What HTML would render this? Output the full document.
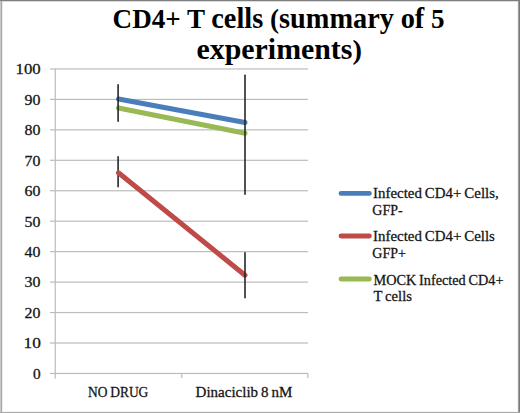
<!DOCTYPE html>
<html><head><meta charset="utf-8">
<style>
html,body{margin:0;padding:0;background:#fff;}
body{width:520px;height:413px;overflow:hidden;position:relative;}
svg{position:absolute;left:0;top:0;display:block;}
text{font-family:"Liberation Serif",serif;}
.sm{stroke:#1a1a1a;stroke-width:0.28px;word-spacing:-0.8px;}

</style></head>
<body>
<svg width="520" height="413" viewBox="0 0 520 413">
<g id="bg">
<rect x="0" y="0" width="520" height="413" fill="#fff"/>
<rect x="2" y="0" width="1" height="413" fill="#ececec"/>
<rect x="517" y="0" width="1" height="413" fill="#f2f2f2"/>
<rect x="0" y="411" width="520" height="1" fill="#f6f6f6"/>
<rect x="0" y="1" width="520" height="1" fill="#dcdcdc"/>
<rect x="0" y="0" width="1" height="413" fill="#c8c8c8"/>
<rect x="1" y="0" width="1" height="413" fill="#a8a8a8"/>
<rect x="518" y="0" width="1" height="413" fill="#a0a0a0"/>
<rect x="519" y="0" width="1" height="413" fill="#7a7a7a"/>
<rect x="0" y="0" width="520" height="1" fill="#7e7e7e"/>
<rect x="0" y="412" width="520" height="1" fill="#a8a8a8"/>
</g>
<g id="grid" fill="#bcbcbc">
<rect x="50" y="372.85" width="258" height="1.2"/>
<rect x="50" y="342.40" width="258" height="1.2"/>
<rect x="50" y="311.95" width="258" height="1.2"/>
<rect x="50" y="281.50" width="258" height="1.2"/>
<rect x="50" y="251.05" width="258" height="1.2"/>
<rect x="50" y="220.60" width="258" height="1.2"/>
<rect x="50" y="190.15" width="258" height="1.2"/>
<rect x="50" y="159.70" width="258" height="1.2"/>
<rect x="50" y="129.25" width="258" height="1.2"/>
<rect x="50" y="98.80" width="258" height="1.2"/>
<rect x="50" y="68.35" width="258" height="1.2"/>
<rect x="54.65" y="69" width="1.2" height="309.5"/>
<rect x="181.2" y="373" width="1.2" height="5"/>
<rect x="307.2" y="373" width="1.2" height="5"/>
</g>
<g id="err1" stroke="#262626" stroke-width="1.6" stroke-linecap="round" fill="none">
<line x1="118.1" y1="156.7" x2="118.1" y2="186.8"/>
</g>
<g id="series" stroke-width="5" stroke-linecap="round" fill="none">
<line x1="118.5" y1="99" x2="245" y2="122.5" stroke="#4a7ebb"/>
<line x1="118.5" y1="108" x2="245" y2="133.3" stroke="#98b954"/>
<line x1="118.5" y1="172.8" x2="245" y2="275.2" stroke="#be4b48"/>
</g>
<g id="err" stroke="#262626" stroke-width="1.6" stroke-linecap="round" fill="none">
<line x1="118.1" y1="84.7" x2="118.1" y2="121.3"/>
<line x1="245" y1="75.2" x2="245" y2="194.2"/>
<line x1="245" y1="252.7" x2="245" y2="297.8"/>
</g>
<g id="legend" stroke-width="4.8" stroke-linecap="round">
<line x1="341" y1="193.4" x2="369.4" y2="193.4" stroke="#4a7ebb"/>
<line x1="341" y1="236" x2="369.4" y2="236" stroke="#be4b48"/>
<line x1="341" y1="279" x2="369.4" y2="279" stroke="#98b954"/>
</g>
<g id="texts">
<text id="title1" x="112.60" y="28.00" font-size="28" font-weight="bold" fill="#000" textLength="331.97" lengthAdjust="spacingAndGlyphs">CD4+ T <tspan font-size="29.3">cells</tspan> (<tspan font-size="29.3">summary</tspan> <tspan font-size="29.3">of</tspan> 5</text>
<text id="title2" x="196.52" y="59.40" font-size="28" font-weight="bold" fill="#000" textLength="165.44" lengthAdjust="spacingAndGlyphs"><tspan font-size="29.3">experiments</tspan>)</text>
<text id="y0" class="sm" x="33.00" y="378.75" font-size="15" fill="#111" textLength="7.66" lengthAdjust="spacingAndGlyphs">0</text>
<text id="y10" class="sm" x="23.49" y="348.30" font-size="15" fill="#111" textLength="17.33" lengthAdjust="spacingAndGlyphs">10</text>
<text id="y20" class="sm" x="24.60" y="317.85" font-size="15" fill="#111" textLength="15.90" lengthAdjust="spacingAndGlyphs">20</text>
<text id="y30" class="sm" x="24.60" y="287.40" font-size="15" fill="#111" textLength="15.90" lengthAdjust="spacingAndGlyphs">30</text>
<text id="y40" class="sm" x="24.60" y="256.95" font-size="15" fill="#111" textLength="15.90" lengthAdjust="spacingAndGlyphs">40</text>
<text id="y50" class="sm" x="24.60" y="226.50" font-size="15" fill="#111" textLength="15.90" lengthAdjust="spacingAndGlyphs">50</text>
<text id="y60" class="sm" x="24.60" y="196.05" font-size="15" fill="#111" textLength="15.90" lengthAdjust="spacingAndGlyphs">60</text>
<text id="y70" class="sm" x="24.60" y="165.60" font-size="15" fill="#111" textLength="15.90" lengthAdjust="spacingAndGlyphs">70</text>
<text id="y80" class="sm" x="24.60" y="135.15" font-size="15" fill="#111" textLength="15.90" lengthAdjust="spacingAndGlyphs">80</text>
<text id="y90" class="sm" x="24.60" y="104.70" font-size="15" fill="#111" textLength="15.90" lengthAdjust="spacingAndGlyphs">90</text>
<text id="y100" class="sm" x="15.63" y="74.25" font-size="15" fill="#111" textLength="25.07" lengthAdjust="spacingAndGlyphs">100</text>
<text id="nodrug" class="sm" x="88.10" y="397.10" font-size="15" fill="#111" textLength="60.25" lengthAdjust="spacingAndGlyphs">NO DRUG</text>
<text id="dina" class="sm" x="195.59" y="397.30" font-size="15" fill="#111" textLength="96.76" lengthAdjust="spacingAndGlyphs">Dinaciclib 8 nM</text>
<text id="lg1" class="sm" x="373.11" y="198.00" font-size="15" fill="#111" textLength="125.64" lengthAdjust="spacingAndGlyphs">Infected CD4+ Cells,</text>
<text id="lg1b" class="sm" x="372.31" y="214.50" font-size="15" fill="#111" textLength="30.33" lengthAdjust="spacingAndGlyphs">GFP-</text>
<text id="lg2" class="sm" x="373.10" y="240.80" font-size="15" fill="#111" textLength="121.78" lengthAdjust="spacingAndGlyphs">Infected CD4+ Cells</text>
<text id="lg2b" class="sm" x="372.33" y="258.40" font-size="15" fill="#111" textLength="33.55" lengthAdjust="spacingAndGlyphs">GFP+</text>
<text id="lg3" class="sm" x="373.52" y="284.60" font-size="15" fill="#111" textLength="129.93" lengthAdjust="spacingAndGlyphs">MOCK Infected CD4+</text>
<text id="lg3b" class="sm" x="373.52" y="301.40" font-size="15" fill="#111" textLength="38.46" lengthAdjust="spacingAndGlyphs">T cells</text>
</g>
</svg>
</body></html>
